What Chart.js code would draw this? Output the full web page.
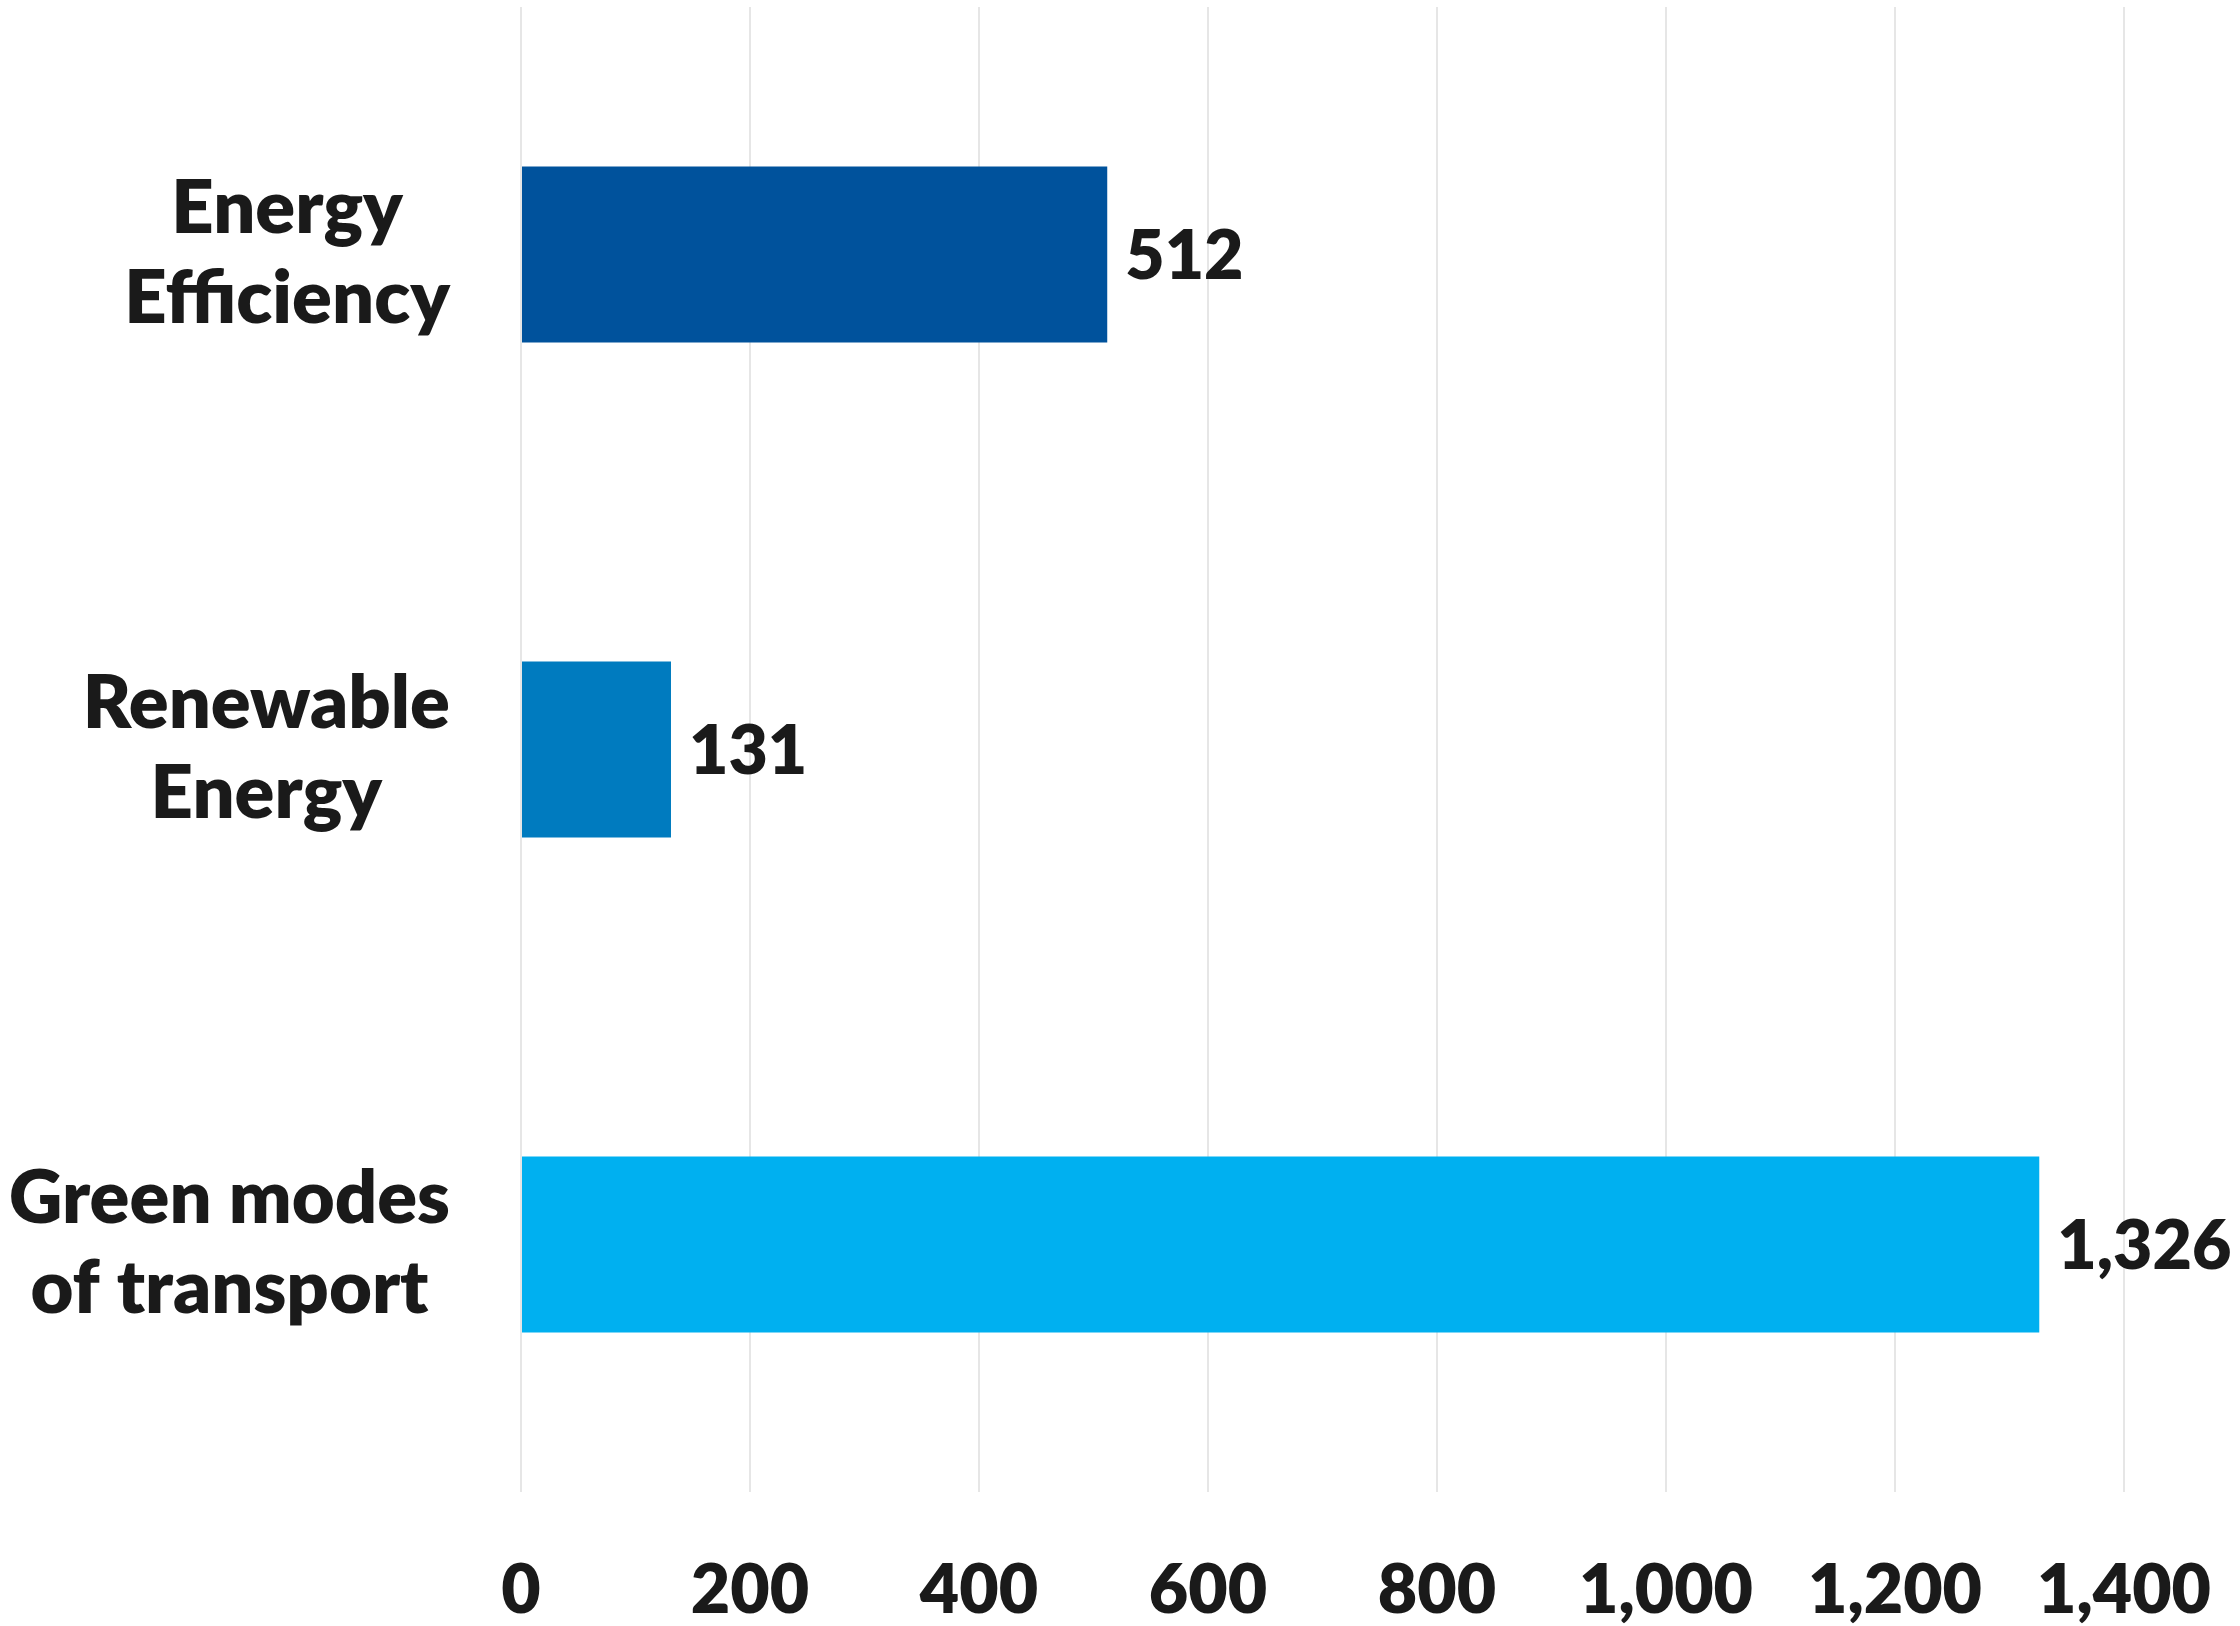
<!DOCTYPE html>
<html>
<head>
<meta charset="utf-8">
<script src="https://cdn.jsdelivr.net/npm/chart.js@4.4.1/dist/chart.umd.min.js"></script>
<style>
  html, body { margin: 0; padding: 0; background: #ffffff; }
  #wrap { width: 2240px; height: 1626px; position: relative; }
</style>
</head>
<body>
<div id="wrap"><canvas id="c" width="2240" height="1626"></canvas></div>
<script>
const categories = [["Energy", "Efficiency"], ["Renewable", "Energy"], ["Green modes", "of transport"]];
const values = [512, 131, 1326];
const barColors = ["#00529c", "#007bbf", "#00b0f0"];
const xTickValues = [0, 200, 400, 600, 800, 1000, 1200, 1400];

const FONT = "Lato, 'Open Sans', sans-serif";
const WEIGHT = "800";
const TEXT = "#1a1a1a";

const categoryLabelPlugin = {
  id: 'categoryLabels',
  afterDraw(chart) {
    const ctx = chart.ctx;
    const yScale = chart.scales.y;
    const rightEdge = chart.chartArea.left - 71;
    ctx.save();
    ctx.font = WEIGHT + " 74px " + FONT;
    ctx.fillStyle = TEXT;
    ctx.textAlign = 'center';
    ctx.textBaseline = 'middle';
    const lineH = 90;
    categories.forEach((lines, i) => {
      const cy = yScale.getPixelForValue(i);
      const maxW = Math.max(...lines.map(l => ctx.measureText(l).width));
      const cx = rightEdge - maxW / 2;
      const startY = cy - (lines.length - 1) * lineH / 2;
      lines.forEach((l, j) => ctx.fillText(l, cx, startY + j * lineH));
    });
    ctx.restore();
  }
};

const valueLabelPlugin = {
  id: 'valueLabels',
  afterDatasetsDraw(chart) {
    const ctx = chart.ctx;
    const meta = chart.getDatasetMeta(0);
    ctx.save();
    ctx.font = WEIGHT + " 68px " + FONT;
    ctx.fillStyle = TEXT;
    ctx.textAlign = 'left';
    ctx.textBaseline = 'middle';
    meta.data.forEach((bar, i) => {
      ctx.fillText(values[i].toLocaleString('en-US'), bar.x + 18, bar.y + 3);
    });
    ctx.restore();
  }
};

new Chart(document.getElementById('c'), {
  type: 'bar',
  data: {
    labels: categories,
    datasets: [{
      data: values,
      backgroundColor: barColors,
      borderWidth: 0,
      barPercentage: 0.356,
      categoryPercentage: 1.0
    }]
  },
  options: {
    indexAxis: 'y',
    responsive: false,
    animation: false,
    devicePixelRatio: 1,
    layout: { padding: { left: 521, right: 116, top: 7, bottom: 0 } },
    plugins: { legend: { display: false }, tooltip: { enabled: false } },
    scales: {
      x: {
        min: 0,
        max: 1400,
        afterBuildTicks(scale) { scale.ticks = xTickValues.map(v => ({ value: v })); },
        afterFit(scale) { scale.height = 134; scale.paddingLeft = 0; scale.paddingRight = 0; },
        grid: { color: '#e6e6e6', lineWidth: 2, drawTicks: false },
        border: { display: false },
        ticks: {
          color: TEXT,
          font: { family: FONT, size: 68, weight: WEIGHT, lineHeight: 1.0 },
          padding: 65,
          maxRotation: 0,
          autoSkip: false,
          callback: (v) => Number(v).toLocaleString('en-US')
        }
      },
      y: {
        display: false,
        grid: { display: false }
      }
    }
  },
  plugins: [categoryLabelPlugin, valueLabelPlugin]
});
</script>
</body>
</html>
